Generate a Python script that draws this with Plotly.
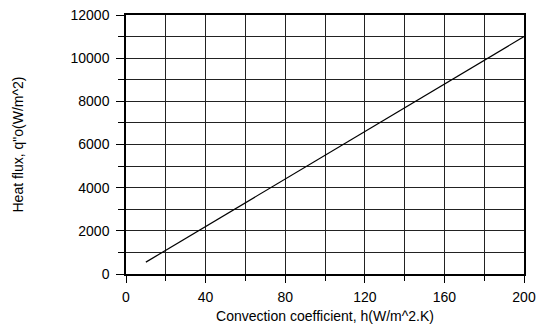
import plotly.graph_objects as go

# convection coefficient h (W/m^2.K) and heat flux q''o (W/m^2)
h_vals = [10, 40, 80, 120, 160, 200]
q_vals = [550, 2200, 4400, 6600, 8800, 11000]

x_ticks = [0, 40, 80, 120, 160, 200]
y_ticks = [0, 2000, 4000, 6000, 8000, 10000, 12000]

fig = go.Figure()
fig.add_trace(go.Scatter(x=h_vals, y=q_vals, mode="lines",
                         line=dict(color="black", width=1.2), showlegend=False))

grid = "#222222"
fig.update_xaxes(
    range=[0, 200], tickvals=x_ticks, ticktext=[str(v) for v in x_ticks],
    ticks="outside", ticklen=7, tickcolor="black", automargin=False,
    showline=True, linecolor="black", linewidth=1.5, mirror=True,
    showgrid=True, gridcolor=grid, gridwidth=1, zeroline=False,
    tickfont=dict(size=14), ticklabelstandoff=2,
    minor=dict(dtick=20, showgrid=True, gridcolor=grid, gridwidth=1,
               ticks="outside", ticklen=5, tickcolor="black"),
    title=dict(text="Convection coefficient, h(W/m^2.K)", standoff=8,
               font=dict(size=14)),
)
fig.update_yaxes(
    range=[0, 12000], tickvals=y_ticks, ticktext=[str(v) for v in y_ticks],
    ticks="outside", ticklen=8, tickcolor="black", automargin=False,
    showline=True, linecolor="black", linewidth=1.5, mirror=True,
    showgrid=True, gridcolor=grid, gridwidth=1, zeroline=False,
    tickfont=dict(size=14), ticklabelstandoff=4,
    minor=dict(dtick=1000, showgrid=True, gridcolor=grid, gridwidth=1,
               ticks="outside", ticklen=6, tickcolor="black"),
    title=dict(text="Heat flux, q\"o(W/m^2)", standoff=44, font=dict(size=14)),
)
fig.update_layout(
    width=537, height=328,
    margin=dict(l=126, r=13, t=15, b=54),
    plot_bgcolor="white", paper_bgcolor="white",
    font=dict(family="Liberation Sans, Arial, sans-serif", size=14, color="black"),
)
fig.write_html("out.html", config={"displayModeBar": False},
               post_script="document.body.style.margin='0';")
